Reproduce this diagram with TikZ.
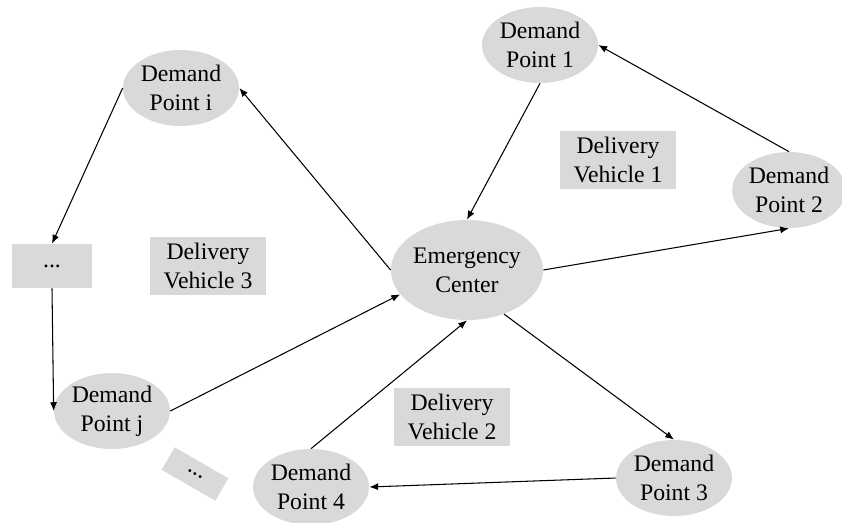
\documentclass[tikz,border=0pt]{standalone}
\usepackage{fontspec}
\setmainfont{Liberation Serif}
\usetikzlibrary{positioning,arrows.meta,shapes.geometric}
\definecolor{boxgray}{RGB}{217,217,217}

\begin{document}
\begin{tikzpicture}[x=0.02cm,y=-0.02cm,
	font=\fontsize{13.5}{16.5}\selectfont,
	demand/.style={ellipse,fill=boxgray,align=center,inner sep=0pt,minimum width=2.32cm,minimum height=1.52cm},
	vehicle/.style={rectangle,fill=boxgray,align=center,minimum width=2.34cm,minimum height=1.14cm},
	route/.style={-{Latex[length=5pt,width=4pt]},line width=0.6pt}]

\useasboundingbox (0,0) rectangle (842,522);

% stops of the three routes
\node[demand,minimum width=2.92cm,minimum height=2cm] (ec) at (467,270) {Emergency\\Center};
\node[demand] (dp1) at (540,45) {Demand\\Point 1};
\node[demand,minimum width=2.2cm] (dp2) at (789,190) {Demand\\Point 2};
\node[demand] (dp3) at (674,478) {Demand\\Point 3};
\node[demand] (dp4) at (311,487) {Demand\\Point 4};
\node[demand] (dpi) at (181,88) {Demand\\Point i};
\node[demand] (dpj) at (112,411) {Demand\\Point j};

% vehicle labels and gaps
\node[vehicle] (dv1) at (618,160) {Delivery\\Vehicle 1};
\node[vehicle] (dv2) at (452,417) {Delivery\\Vehicle 2};
\node[vehicle] (dv3) at (208,266) {Delivery\\Vehicle 3};
\node[vehicle,minimum width=1.62cm,minimum height=0.88cm] (dots1) at (52,266) {...};
\node[vehicle,minimum width=1.24cm,minimum height=0.52cm,inner sep=0pt,rotate=-30] (dots2) at (195,474) {...};

\foreach \a/\b in {dp1.south/ec.north,dp2.north/dp1.east,ec.east/dp2.south,
	ec.west/dpi.east,dpi.west/dots1.north,dots1.south/dpj.west,dpj.east/ec.200,
	ec.-50/dp3.north,dp3.west/dp4.east,dp4.north/ec.south}
	\draw[route](\a)--(\b);

\end{tikzpicture}
\end{document}
